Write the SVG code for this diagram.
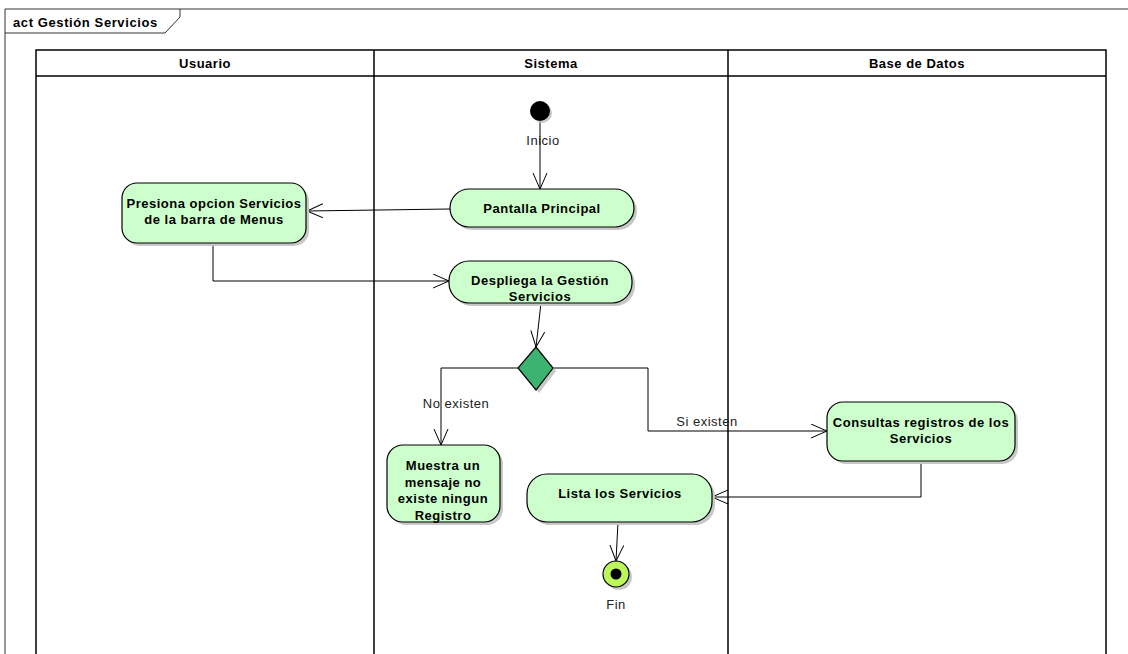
<svg xmlns="http://www.w3.org/2000/svg" width="1128" height="654" viewBox="0 0 1128 654">
<style>
.frame{fill:none;stroke:#333;stroke-width:1}
.lane{fill:none;stroke:#000;stroke-width:1.5}
.hdr{font-family:"Liberation Sans",Arial,sans-serif;font-weight:bold;font-size:13px;letter-spacing:0.5px;fill:#000;text-anchor:middle}
.act{fill:#ccffcc;stroke:#000;stroke-width:1.2}
.shadow{fill:#c8c8c8}
.lbl{font-family:"Liberation Sans",Arial,sans-serif;font-weight:bold;font-size:13px;letter-spacing:0.5px;fill:#000;text-anchor:middle}
.note{font-family:"Liberation Sans",Arial,sans-serif;font-size:13px;letter-spacing:0.5px;fill:#222;text-anchor:middle}
.edge{fill:none;stroke:#000;stroke-width:1}
</style>
<defs>
<marker id="open" markerWidth="18" markerHeight="16" refX="16" refY="7.5" orient="auto" markerUnits="userSpaceOnUse">
<path d="M0,0.5 L16,7.5 L0,14.5" fill="none" stroke="#000" stroke-width="1"/>
</marker>
</defs>
<rect width="1128" height="654" fill="#fff"/>
<g id="frame">
<path class="frame" d="M5,654 L5,9 L1128,9"/>
<path class="frame" d="M5,33 L165,33 L180,17 L180,9"/>
<text x="13" y="27" font-family="Liberation Sans,Arial,sans-serif" font-weight="bold" font-size="13" letter-spacing="0.6">act Gestión Servicios</text>
</g>
<g id="lanes">
<path class="lane" d="M36,654 L36,50 L1106,50 L1106,654 M36,76 L1106,76 M374,50 L374,654 M728,50 L728,654"/>
<text class="hdr" x="205" y="68">Usuario</text>
<text class="hdr" x="551" y="68">Sistema</text>
<text class="hdr" x="917" y="68">Base de Datos</text>
</g>
<g id="edges">
<path class="edge" d="M540,121 L540,189" marker-end="url(#open)"/>
<path class="edge" d="M450,209 L307,211" marker-end="url(#open)"/>
<path class="edge" d="M213,243 L213,281 L449,281" marker-end="url(#open)"/>
<path class="edge" d="M541,303 L536,347" marker-end="url(#open)"/>
<path class="edge" d="M518,368 L441,368 L441,445" marker-end="url(#open)"/>
<path class="edge" d="M553,368 L648,368 L648,431 L827,431" marker-end="url(#open)"/>
<path class="edge" d="M921,461 L921,497 L712,497" marker-end="url(#open)"/>
<path class="edge" d="M618,522 L616,561" marker-end="url(#open)"/>
<text class="note" x="456" y="408">No existen</text>
<text class="note" x="707" y="426">Si existen</text>
<text class="note" x="543" y="145">Inicio</text>
<text class="note" x="616" y="609">Fin</text>
</g>
<g id="inicio">
<circle cx="542" cy="113" r="10" class="shadow"/>
<circle cx="540" cy="111" r="10" fill="#000"/>
</g>
<g id="pantalla">
<rect x="453" y="192" width="184" height="38" rx="19" class="shadow"/>
<rect x="450" y="189" width="184" height="38" rx="19" class="act"/>
<text class="lbl" x="542" y="213">Pantalla Principal</text>
</g>
<g id="presiona">
<rect x="125" y="186" width="184" height="60" rx="15" class="shadow"/>
<rect x="122" y="183" width="184" height="60" rx="15" class="act"/>
<text class="lbl" x="214" y="208">Presiona opcion Servicios</text>
<text class="lbl" x="214" y="224">de la barra de Menus</text>
</g>
<g id="despliega">
<rect x="452" y="264" width="183" height="42" rx="20" class="shadow"/>
<rect x="449" y="261" width="183" height="42" rx="20" class="act"/>
<text class="lbl" x="540" y="285">Despliega la Gestión</text>
<text class="lbl" x="540" y="301">Servicios</text>
</g>
<g id="decision">
<path d="M539,350 L556,371 L539,393 L521,371 Z" class="shadow"/>
<path d="M536,347 L553,368 L536,390 L518,368 Z" fill="#3cb371" stroke="#000" stroke-width="1.2"/>
</g>
<g id="muestra">
<rect x="390" y="448" width="113" height="77" rx="16" class="shadow"/>
<rect x="387" y="445" width="113" height="77" rx="16" class="act"/>
<text class="lbl" x="443" y="470">Muestra un</text>
<text class="lbl" x="443" y="487">mensaje no</text>
<text class="lbl" x="443" y="503">existe ningun</text>
<text class="lbl" x="443" y="520">Registro</text>
</g>
<g id="consultas">
<rect x="830" y="405" width="188" height="59" rx="16" class="shadow"/>
<rect x="827" y="402" width="188" height="59" rx="16" class="act"/>
<text class="lbl" x="921" y="427">Consultas registros de los</text>
<text class="lbl" x="921" y="443">Servicios</text>
</g>
<g id="lista">
<rect x="530" y="477" width="185" height="48" rx="20" class="shadow"/>
<rect x="527" y="474" width="185" height="48" rx="20" class="act"/>
<text class="lbl" x="620" y="498">Lista los Servicios</text>
</g>
<g id="fin">
<circle cx="619" cy="577" r="13" class="shadow"/>
<circle cx="616" cy="574" r="13" fill="#bdf55c" stroke="#000" stroke-width="1.2"/>
<circle cx="616" cy="574" r="5.5" fill="#000"/>
</g>
</svg>
